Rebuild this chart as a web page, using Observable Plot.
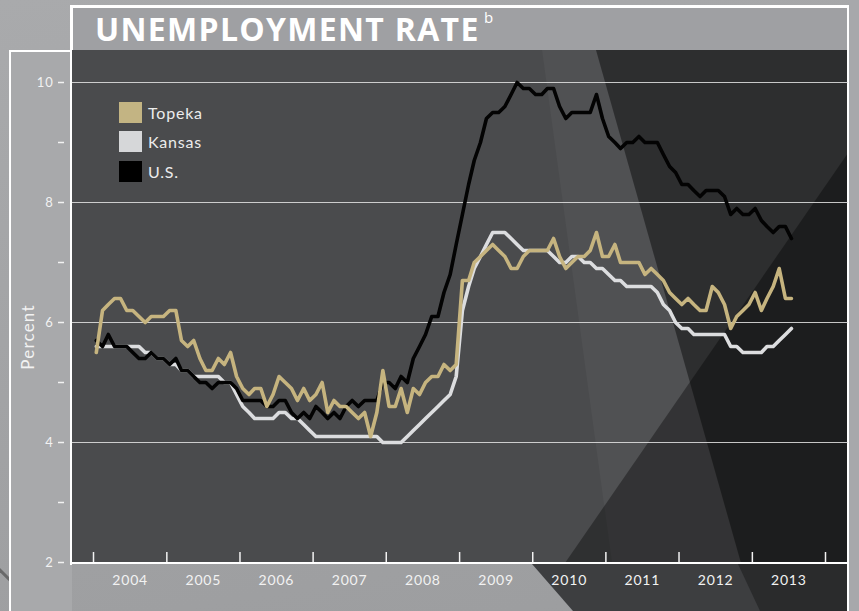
<!DOCTYPE html>
<html>
<head>
<meta charset="utf-8">
<script src="https://cdn.jsdelivr.net/npm/d3@7"></script>
<script src="https://cdn.jsdelivr.net/npm/@observablehq/plot@0.6"></script>
<style>
html, body { margin: 0; padding: 0; }
body { width: 859px; height: 611px; overflow: hidden; background: #a3a4a6; font-family: "Lato", "Open Sans", sans-serif; }
#wrap { position: relative; width: 859px; height: 611px; overflow: hidden;
  background: linear-gradient(170deg, #a9aaac 0%, #a1a2a4 60%, #9c9d9f 100%); }
.abs { position: absolute; }
#leftpanel { left: 9px; top: 50px; width: 63px; height: 561px; background: #a8a9ab; border-left: 2px solid #fff; border-top: 2px solid #fff; box-sizing: border-box; }
#titlebar { left: 70px; top: 5px; width: 778px; height: 46px; background: #9fa0a3; border-left: 3px solid #fff; border-top: 3px solid #fff; box-sizing: border-box; }
#title { left: 95px; top: 13px; font-family: "Open Sans", sans-serif; font-weight: 700; font-size: 32px; line-height: 32px; letter-spacing: 1.3px; color: #fff; white-space: nowrap; }
#sup { left: 484px; top: 10px; font-family: "Open Sans", sans-serif; font-size: 15px; line-height: 15px; color: #fff; }
#ylabel { left: 27px; top: 337px; transform: translate(-50%, -50%) rotate(-90deg); font-family: "Lato", sans-serif; font-size: 17px; line-height: 17px; letter-spacing: 1.2px; color: #f2f2f2; white-space: nowrap; }
#panel { left: 72px; top: 50px; width: 776px; height: 513px; background: #4a4b4d; overflow: hidden; }
.shade { position: absolute; left: 0; top: 0; width: 776px; height: 513px; }
#rightline { left: 847px; top: 5px; width: 2px; height: 606px; background: #fff; }
#rightstrip { left: 849px; top: 0; width: 10px; height: 611px; background: #a7a8ab; }
#frameleft { left: 70px; top: 50px; width: 2px; height: 515px; background: #fff; }
#framebottom { left: 70px; top: 562px; width: 779px; height: 2px; background: #fff; }
#bottomdark { left: 0; top: 564px; width: 848px; height: 47px; background: #3d3e40; clip-path: polygon(532px 0, 848px 0, 848px 47px, 573px 47px); }
#bottomdarker { left: 0; top: 564px; width: 848px; height: 47px; background: #2a2b2c; clip-path: polygon(738px 0, 848px 0, 848px 47px, 760px 47px); }
#diag { left: -20px; top: 548px; width: 140px; height: 3px; background: rgba(60,60,60,0.55); transform: rotate(45deg); transform-origin: 0 0; }
#chart { left: 0; top: 0; }
.legend-item { position: absolute; left: 119px; display: flex; align-items: center; height: 21px; }
.sw { width: 23px; height: 21px; margin-right: 6px; }
.lab { font-family: "Lato", sans-serif; font-size: 16px; color: #ececec; letter-spacing: 0.8px; }
</style>
</head>
<body>
<div id="wrap">
  <div class="abs" id="diag"></div>
  <div class="abs" id="leftpanel"></div>
  <div class="abs" id="bottomdark"></div>
  <div class="abs" id="bottomdarker"></div>
  <div class="abs" id="titlebar"></div>
  <div class="abs" id="title">UNEMPLOYMENT RATE</div>
  <div class="abs" id="sup">b</div>
  <div class="abs" id="panel">
    <div class="shade" style="background: rgba(255,255,255,0.035); clip-path: polygon(470px 0, 524px 0, 669px 513px, 540px 513px);"></div>
    <div class="shade" style="background: rgba(0,0,0,0.38); clip-path: polygon(524px 0, 776px 0, 776px 513px, 669px 513px);"></div>
    <div class="shade" style="background: rgba(0,0,0,0.36); clip-path: polygon(493px 513px, 776px 103px, 776px 513px);"></div>
  </div>
  <div class="abs" id="rightstrip"></div>
  <div class="abs" id="rightline"></div>
  <div class="abs" id="chart"></div>
  <div class="abs" id="frameleft"></div>
  <div class="abs" id="framebottom"></div>
  <div class="abs" id="ylabel">Percent</div>
  <div class="legend-item" style="top:102px"><div class="sw" style="background:#c3b483"></div><span class="lab">Topeka</span></div>
  <div class="legend-item" style="top:131px"><div class="sw" style="background:#d6d7d9"></div><span class="lab">Kansas</span></div>
  <div class="legend-item" style="top:161px"><div class="sw" style="background:#000"></div><span class="lab">U.S.</span></div>
</div>
<script>
// Monthly unemployment rate (%), Jan 2004 – Jul 2013
const startYear = 2004;
const topeka = [
  5.5, 6.2, 6.3, 6.4, 6.4, 6.2, 6.2, 6.1, 6.0, 6.1, 6.1, 6.1,   // 2004
  6.2, 6.2, 5.7, 5.6, 5.7, 5.4, 5.2, 5.2, 5.4, 5.3, 5.5, 5.1,   // 2005
  4.9, 4.8, 4.9, 4.9, 4.6, 4.8, 5.1, 5.0, 4.9, 4.7, 4.9, 4.7,   // 2006
  4.8, 5.0, 4.5, 4.7, 4.6, 4.6, 4.5, 4.4, 4.5, 4.1, 4.5, 5.2,   // 2007
  4.6, 4.6, 4.9, 4.5, 4.9, 4.8, 5.0, 5.1, 5.1, 5.3, 5.2, 5.3,   // 2008
  6.7, 6.7, 7.0, 7.1, 7.2, 7.3, 7.2, 7.1, 6.9, 6.9, 7.1, 7.2,   // 2009
  7.2, 7.2, 7.2, 7.4, 7.1, 6.9, 7.0, 7.1, 7.1, 7.2, 7.5, 7.1,   // 2010
  7.1, 7.3, 7.0, 7.0, 7.0, 7.0, 6.8, 6.9, 6.8, 6.7, 6.5, 6.4,   // 2011
  6.3, 6.4, 6.3, 6.2, 6.2, 6.6, 6.5, 6.3, 5.9, 6.1, 6.2, 6.3,   // 2012
  6.5, 6.2, 6.4, 6.6, 6.9, 6.4, 6.4                            // 2013
];
const kansas = [
  5.6, 5.6, 5.6, 5.6, 5.6, 5.6, 5.6, 5.6, 5.5, 5.5, 5.4, 5.4,   // 2004
  5.3, 5.3, 5.2, 5.2, 5.1, 5.1, 5.1, 5.1, 5.1, 5.0, 5.0, 4.8,   // 2005
  4.6, 4.5, 4.4, 4.4, 4.4, 4.4, 4.5, 4.5, 4.4, 4.4, 4.3, 4.2,   // 2006
  4.1, 4.1, 4.1, 4.1, 4.1, 4.1, 4.1, 4.1, 4.1, 4.1, 4.1, 4.0,   // 2007
  4.0, 4.0, 4.0, 4.1, 4.2, 4.3, 4.4, 4.5, 4.6, 4.7, 4.8, 5.1,   // 2008
  6.2, 6.6, 6.9, 7.1, 7.3, 7.5, 7.5, 7.5, 7.4, 7.3, 7.2, 7.2,   // 2009
  7.2, 7.2, 7.2, 7.1, 7.0, 7.0, 7.1, 7.1, 7.0, 7.0, 6.9, 6.9,   // 2010
  6.8, 6.7, 6.7, 6.6, 6.6, 6.6, 6.6, 6.6, 6.5, 6.3, 6.2, 6.0,   // 2011
  5.9, 5.9, 5.8, 5.8, 5.8, 5.8, 5.8, 5.8, 5.6, 5.6, 5.5, 5.5,   // 2012
  5.5, 5.5, 5.6, 5.6, 5.7, 5.8, 5.9                            // 2013
];
const us = [
  5.7, 5.6, 5.8, 5.6, 5.6, 5.6, 5.5, 5.4, 5.4, 5.5, 5.4, 5.4,   // 2004
  5.3, 5.4, 5.2, 5.2, 5.1, 5.0, 5.0, 4.9, 5.0, 5.0, 5.0, 4.9,   // 2005
  4.7, 4.7, 4.7, 4.7, 4.6, 4.6, 4.7, 4.7, 4.5, 4.4, 4.5, 4.4,   // 2006
  4.6, 4.5, 4.4, 4.5, 4.4, 4.6, 4.7, 4.6, 4.7, 4.7, 4.7, 5.0,   // 2007
  5.0, 4.9, 5.1, 5.0, 5.4, 5.6, 5.8, 6.1, 6.1, 6.5, 6.8, 7.3,   // 2008
  7.8, 8.3, 8.7, 9.0, 9.4, 9.5, 9.5, 9.6, 9.8, 10.0, 9.9, 9.9,  // 2009
  9.8, 9.8, 9.9, 9.9, 9.6, 9.4, 9.5, 9.5, 9.5, 9.5, 9.8, 9.4,   // 2010
  9.1, 9.0, 8.9, 9.0, 9.0, 9.1, 9.0, 9.0, 9.0, 8.8, 8.6, 8.5,   // 2011
  8.3, 8.3, 8.2, 8.1, 8.2, 8.2, 8.2, 8.1, 7.8, 7.9, 7.8, 7.8,   // 2012
  7.9, 7.7, 7.6, 7.5, 7.6, 7.6, 7.4                            // 2013
];
const yearLabels = [2004, 2005, 2006, 2007, 2008, 2009, 2010, 2011, 2012, 2013];
const yTicksMajor = [2, 4, 6, 8, 10];
const yTicksMinor = [3, 5, 7, 9];
const gridValues = [4, 6, 8, 10];

const rows = topeka.map((v, i) => ({
  date: new Date(Date.UTC(startYear, i, 15)),
  topeka: v, kansas: kansas[i], us: us[i]
}));
const yearStarts = [...yearLabels, 2014].map(y => new Date(Date.UTC(y, 0, 1)));
const yearMids = yearLabels.map(y => new Date(Date.UTC(y, 6, 2)));

const chart = Plot.plot({
  width: 859,
  height: 611,
  marginLeft: 72,
  marginRight: 11,
  marginTop: 50,
  marginBottom: 48,
  style: { background: "transparent", fontFamily: "Lato, 'Open Sans', sans-serif" },
  x: { type: "utc", domain: [new Date(Date.UTC(2004, 0, 1)), new Date(Date.UTC(2014, 0, 1))], range: [93, 825] },
  y: { domain: [2, 10], range: [562, 82] },
  marks: [
    Plot.gridY(gridValues, { stroke: "#e4e4e4", strokeOpacity: 0.85, strokeWidth: 1 }),
    Plot.tickX(yearStarts, { x: d => d, stroke: "#f2f2f2", strokeWidth: 1.5, insetTop: 502 }),
    Plot.axisX(yearMids, { tickSize: 0, tickPadding: 12, tickFormat: d3.utcFormat("%Y"), fontSize: 14, color: "#f2f2f2", label: null }),
    Plot.axisY(yTicksMajor, { tickSize: 6, dx: -8, tickPadding: 5, tickFormat: d3.format("d"), fontSize: 13, color: "#f2f2f2", strokeWidth: 1.5, label: null }),
    Plot.axisY(yTicksMinor, { tickSize: 6, dx: -8, tickFormat: () => "", color: "#f2f2f2", strokeWidth: 1.5, label: null }),
    Plot.line(rows, { x: "date", y: "kansas", stroke: "#dcdddf", strokeWidth: 3.6 }),
    Plot.line(rows, { x: "date", y: "us", stroke: "#030303", strokeWidth: 3.6 }),
    Plot.line(rows, { x: "date", y: "topeka", stroke: "#c6b47f", strokeWidth: 3.6 })
  ]
});
chart.style.letterSpacing = "0.8px";
document.getElementById("chart").appendChild(chart);
</script>
</body>
</html>
